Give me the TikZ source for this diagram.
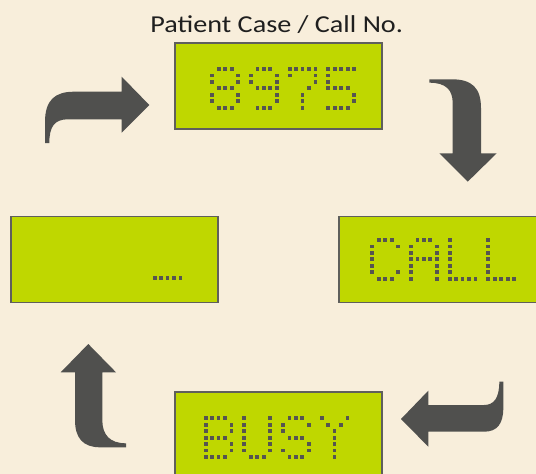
\documentclass[tikz,border=0pt]{standalone}
\usepackage{fontspec}
\setmainfont{Carlito}
\definecolor{bgc}{RGB}{248,238,219}
\definecolor{lcdfill}{RGB}{191,215,0}
\definecolor{lcdedge}{RGB}{95,95,92}
\definecolor{dotc}{RGB}{85,85,80}
\definecolor{arrc}{RGB}{80,80,78}
\tikzset{
  lcd/.style={draw=lcdedge, line width=1.6pt, fill=lcdfill, minimum width=207pt, minimum height=86pt, inner sep=0pt, outer sep=0pt},
  lcddot/.style={fill=dotc},
  blockarrow/.style={fill=arrc, draw=none},
  titletext/.style={font=\fontsize{24.3}{29}\selectfont, text=black!88, anchor=base, inner sep=0pt}
}
\newcommand\lcdch[3]{\foreach \c/\r in #3 {\fill[lcddot] ({#1+\c*6.44-1.9},{#2+\r*6.44-1.9}) rectangle ++(3.8,3.8);}}
\def\chEight{1/0,2/0,3/0,0/1,4/1,0/2,4/2,1/3,2/3,3/3,0/4,4/4,0/5,4/5,1/6,2/6,3/6}
\def\chNine{1/0,2/0,3/0,0/1,4/1,0/2,4/2,1/3,2/3,3/3,4/3,4/4,4/5,1/6,2/6,3/6}
\def\chSeven{0/0,1/0,2/0,3/0,4/0,0/1,4/1,4/2,3/3,2/4,2/5,2/6}
\def\chFive{0/0,1/0,2/0,3/0,4/0,0/1,0/2,0/3,1/3,2/3,3/3,4/4,4/5,0/6,1/6,2/6,3/6}
\def\chC{1/0,2/0,3/0,0/1,4/1,0/2,0/3,0/4,0/5,4/5,1/6,2/6,3/6}
\def\chA{1/0,2/0,3/0,0/1,4/1,0/2,4/2,0/3,1/3,2/3,3/3,4/3,0/4,4/4,0/5,4/5,0/6,4/6}
\def\chL{0/0,0/1,0/2,0/3,0/4,0/5,0/6,1/6,2/6,3/6,4/6}
\def\chB{0/0,1/0,2/0,3/0,0/1,4/1,0/2,4/2,0/3,1/3,2/3,3/3,0/4,4/4,0/5,4/5,0/6,1/6,2/6,3/6}
\def\chU{0/0,4/0,0/1,4/1,0/2,4/2,0/3,4/3,0/4,4/4,0/5,4/5,1/6,2/6,3/6}
\def\chS{1/0,2/0,3/0,0/1,4/1,0/2,1/3,2/3,3/3,4/4,0/5,4/5,1/6,2/6,3/6}
\def\chY{0/0,4/0,1/1,3/1,2/2,2/3,2/4,2/5,2/6}
\def\chDots{0/6,1/6,2/6,3/6,4/6}
\begin{document}
\begin{tikzpicture}[x=1pt,y=-1pt]
\fill[bgc] (0,0) rectangle (536,474);
\useasboundingbox (0,0) rectangle (536,474);
\clip (0,0) rectangle (536,474);
% title
\node[titletext] (title) at (276.7,32.3) {\scalebox{1.16}[1]{Patient Case / Call No.}};
% LCD boxes
\node[lcd] (num) at (278.5,86) {};
\node[lcd] (call) at (442.5,259.5) {};
\node[lcd] (wait) at (114.5,259.5) {};
\node[lcd] (busy) at (278.5,435) {};
% digits 8975
\lcdch{212.3}{69}{\chEight}
\lcdch{251.0}{69}{\chNine}
\lcdch{289.7}{69}{\chSeven}
\lcdch{328.3}{69}{\chFive}
% CALL
\lcdch{372.3}{240}{\chC}
\lcdch{411.0}{240}{\chA}
\lcdch{449.7}{240}{\chL}
\lcdch{488.3}{240}{\chL}
% .....
\lcdch{154.7}{239.1}{\chDots}
% BUSY
\lcdch{205.7}{418.3}{\chB}
\lcdch{244.3}{418.3}{\chU}
\lcdch{283.0}{418.3}{\chS}
\lcdch{321.7}{418.3}{\chY}
% curved block arrows
\fill[blockarrow] (45,143) -- (45,122) .. controls (45,100) and (55,91.7) .. (74,91.7)
  -- (121.7,91.7) -- (121.7,76.7) -- (149.3,105) -- (121.7,132.7) -- (121.7,119.3)
  -- (68,119.3) .. controls (55,119.3) and (49.3,126) .. (49.3,143) -- cycle;
\fill[blockarrow] (429.3,79.3) -- (452,79.3) .. controls (472,79.3) and (481,88) .. (481,108)
  -- (481,153.3) -- (496.7,153.3) -- (467.7,181.7) -- (439.3,153.3) -- (452.7,153.3)
  -- (452.7,103) .. controls (452.7,90) and (446,82.7) .. (429.3,82.7) -- cycle;
\fill[blockarrow] (503.3,381.7) -- (503.3,408) .. controls (503.3,424) and (497,431.7) .. (484,431.7)
  -- (428.3,431.7) -- (428.3,446.7) -- (401,419) -- (428.3,390.7) -- (428.3,405)
  -- (484,405) .. controls (494,405) and (499.3,398) .. (499.3,381.7) -- cycle;
\fill[blockarrow] (126,447.3) -- (100,447.3) .. controls (83,447.3) and (75,438) .. (75,420)
  -- (75,372.3) -- (60.7,372.3) -- (88.3,344) -- (116,372.3) -- (102.3,372.3)
  -- (102.3,420) .. controls (102.3,435) and (110,443.3) .. (126,443.3) -- cycle;
\end{tikzpicture}
\end{document}
